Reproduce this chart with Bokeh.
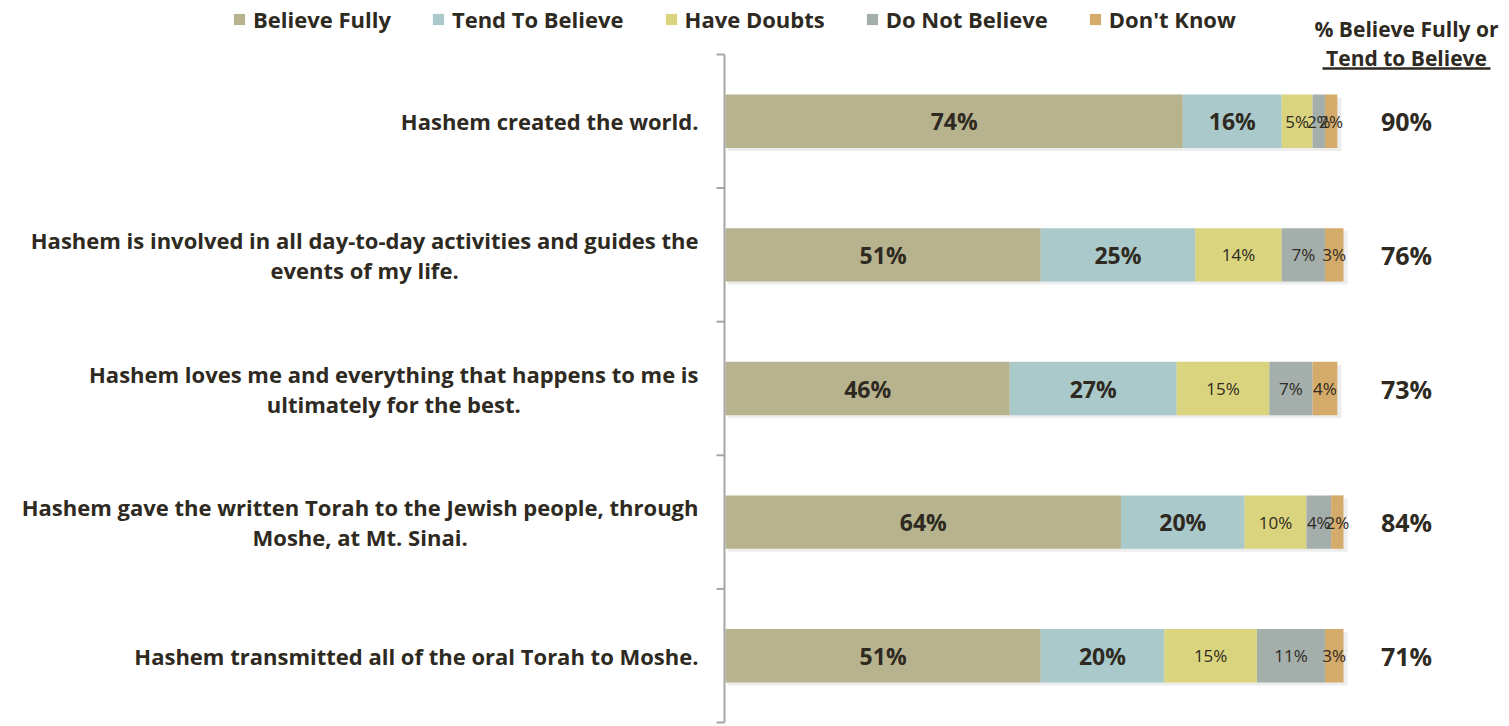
from bokeh.plotting import figure
from bokeh.models import ColumnDataSource, Range1d
from bokeh.core.properties import value
from bokeh.embed import file_html
from bokeh.resources import INLINE

# ---------------- data ----------------
statements = [
    "Hashem created the world.",
    "Hashem is involved in all day-to-day activities and guides the\nevents of my life.",
    "Hashem loves me and everything that happens to me is\nultimately for the best.",
    "Hashem gave the written Torah to the Jewish people, through\nMoshe, at Mt. Sinai.",
    "Hashem transmitted all of the oral Torah to Moshe.",
]
series_names = ["Believe Fully", "Tend To Believe", "Have Doubts", "Do Not Believe", "Don't Know"]
believe_fully = [74, 51, 46, 64, 51]
tend_to_believe = [16, 25, 27, 20, 20]
have_doubts = [5, 14, 15, 10, 15]
do_not_believe = [2, 7, 7, 4, 11]
dont_know = [2, 3, 4, 2, 3]
header_lines = ["% Believe Fully or", "Tend to Believe"]

# ---------------- styles ----------------
colors = ["#b8b38f", "#aac9ca", "#dad47e", "#a4afab", "#d4ab6a"]
TXT = "#2e2a22"
AXC = "#a6a6a6"
FONT = "Open Sans"

W, H = 1509, 726
PX_PER_PCT = 6.18          # horizontal scale (pixels per percentage point)
X0_PX = 725                # pixel position of 0 %
PX_PER_ROW = 133.6         # vertical scale (pixels per category band)
TOP_PX, BOT_PX = 54, 722   # pixel rows of the category area

series = [believe_fully, tend_to_believe, have_doubts, do_not_believe, dont_know]
keys = ["s0", "s1", "s2", "s3", "s4"]
n = len(statements)
ypos = [n - 0.5 - i for i in range(n)]

data = {"y": ypos, "label": statements}
for k, s in zip(keys, series):
    data[k] = s
src = ColumnDataSource(data)

x_start = -X0_PX / PX_PER_PCT
x_end = (W - X0_PX) / PX_PER_PCT
y_end = n + TOP_PX / PX_PER_ROW
y_start = -(H - BOT_PX) / PX_PER_ROW


def px_x(d):
    return d / PX_PER_PCT


def px_y(d):
    return d / PX_PER_ROW


p = figure(width=W, height=H, output_backend="svg", toolbar_location=None,
           x_range=Range1d(x_start, x_end), y_range=Range1d(y_start, y_end),
           min_border_left=0, min_border_right=0, min_border_top=0, min_border_bottom=0)
p.outline_line_color = None
p.xgrid.visible = False
p.ygrid.visible = False
p.xaxis.visible = False
p.yaxis.visible = False
p.background_fill_color = "white"

# faint shadow behind bars
tot_all = [sum(s[i] for s in series) for i in range(n)]
p.hbar(y=[y - px_y(3) for y in ypos], left=px_x(2), right=[t + px_x(4) for t in tot_all],
       height=0.4, color="#000000", alpha=0.07, line_color=None)

renderers = p.hbar_stack(keys, y="y", height=0.4, color=colors, source=src,
                         legend_label=series_names, line_color=None)

# manual category axis: line + ticks at band boundaries
p.segment(x0=[-px_x(1)], y0=[0], x1=[-px_x(1)], y1=[n], line_color=AXC, line_width=2)
bounds = list(range(n + 1))
p.segment(x0=[-px_x(9)] * len(bounds), y0=bounds, x1=[-px_x(1)] * len(bounds), y1=bounds,
          line_color=AXC, line_width=2)

# category labels (block right-anchored, lines centred)
p.text(x=-px_x(27), y="y", text="label", source=src, text_align="center",
       anchor=value("center_right"), text_baseline="middle", text_font=value(FONT),
       text_font_style="bold", text_font_size="22px", text_color=TXT, text_line_height=1.0)

# in-bar value labels
bx, by, bt, nx, ny, nt = [], [], [], [], [], []
for i in range(n):
    left = 0
    for j, s in enumerate(series):
        v = s[i]
        c = left + v / 2
        if j < 2:
            bx.append(c); by.append(ypos[i]); bt.append(f"{v}%")
        else:
            nx.append(c); ny.append(ypos[i]); nt.append(f"{v}%")
        left += v
p.text(x=bx, y=by, text=bt, text_align="center", text_baseline="middle",
       text_font=value(FONT), text_font_style="bold", text_font_size="23px", text_color=TXT)
p.text(x=nx, y=ny, text=nt, text_align="center", text_baseline="middle",
       text_font=value(FONT), text_font_size="17px", text_color=TXT)

# totals
TOT_X = px_x(1406 - X0_PX)
totals = [a + b for a, b in zip(believe_fully, tend_to_believe)]
p.text(x=[TOT_X] * n, y=ypos, text=[f"{t}%" for t in totals], text_align="center",
       text_baseline="middle", text_font=value(FONT), text_font_style="bold",
       text_font_size="25px", text_color=TXT)

# header
p.text(x=[TOT_X, TOT_X], y=[n + px_y(26), n - px_y(3)], text=header_lines,
       text_align="center", text_baseline="middle", text_font=value(FONT),
       text_font_style="bold", text_font_size="21px", text_color=TXT)
p.segment(x0=[TOT_X - px_x(84)], y0=[n - px_y(14)], x1=[TOT_X + px_x(84)], y1=[n - px_y(14)],
          line_color=TXT, line_width=2.5)

# legend
lg = p.legend[0]
lg.orientation = "horizontal"
lg.location = (232, 692)
lg.label_text_font = FONT
lg.label_text_font_style = "bold"
lg.label_text_font_size = "22px"
lg.label_text_color = TXT
lg.glyph_width = 14
lg.glyph_height = 14
lg.label_standoff = 7
lg.spacing = 40
lg.padding = 0
lg.margin = 0
lg.border_line_color = None
lg.background_fill_alpha = 0

open("out.html", "w").write(file_html(p, INLINE))
